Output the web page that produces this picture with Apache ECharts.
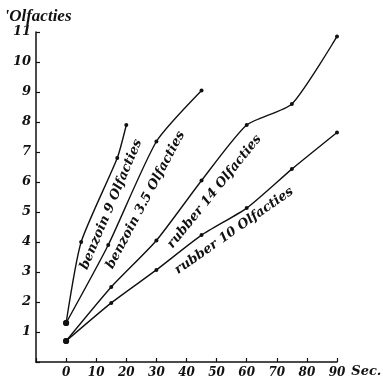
<!DOCTYPE html>
<html><head><meta charset="utf-8">
<script src="https://cdn.jsdelivr.net/npm/echarts@6/dist/echarts.min.js"></script>
<style>html,body{margin:0;padding:0;background:#fff}#c{width:383px;height:377px}</style>
</head><body><div id="c"></div>
<script>
const benzoin9 = [[0,1.3],[5,4.0],[17,6.8],[20,7.9]];
const benzoin35 = [[0,1.3],[14,3.9],[30,7.35],[45,9.05]];
const rubber14 = [[0,0.7],[15,2.5],[30,4.05],[45,6.05],[60,7.9],[75,8.6],[90,10.85]];
const rubber10 = [[0,0.7],[15,1.97],[30,3.07],[45,4.23],[60,5.13],[75,6.43],[90,7.65]];
const xTicks = [-10,0,10,20,30,40,50,60,70,80,90];
const yTicks = [1,2,3,4,5,6,7,8,9,10,11];
const lineLabels = [
  {text:'benzoin 9 Olfacties', at:[15.0,5.25], rot:67},
  {text:'benzoin 3.5 Olfacties', at:[26.4,5.4], rot:62},
  {text:'rubber 14 Olfacties', at:[49.3,5.68], rot:51},
  {text:'rubber 10 Olfacties', at:[55.8,4.37], rot:35}
];
const FONT = 'DejaVu Serif';
const txt = {fontFamily:FONT, fontStyle:'italic', fontWeight:'bold', color:'#111'};
function mk(name, data, lbl){
  return {
    name, type:'line', data, smooth:0.2,
    symbol:'circle',
    symbolSize:(v,p)=>p.dataIndex===0?6:4,
    lineStyle:{color:'#111', width:1.4},
    itemStyle:{color:'#111'},
    markPoint: lbl ? {
      symbol:'circle', symbolSize:0, silent:true,
      label:{show:true, formatter:lbl.text, rotate:lbl.rot, fontSize:13, ...txt},
      data:[{coord:lbl.at}]
    } : undefined
  };
}
const chart = echarts.init(document.getElementById('c'));
chart.setOption({
  backgroundColor:'#fff',
  animation:false,
  grid:{left:36, right:46, top:32, bottom:15, containLabel:false, outerBoundsMode:'none'},
  xAxis:{type:'value', min:-10, max:90, interval:10,
    name:'Sec.', nameLocation:'end', nameGap:10,
    nameTextStyle:{...txt, fontSize:13, verticalAlign:'top', padding:[3,0,0,0]},
    axisLine:{onZero:false, lineStyle:{color:'#111', width:1.5}},
    axisTick:{inside:true, length:4, lineStyle:{color:'#111', width:1.2}},
    axisLabel:{...txt, fontSize:12, margin:5, formatter:v=>v<0?'':String(v)},
    splitLine:{show:false}},
  yAxis:{type:'value', min:0, max:11, interval:1,
    name:"'Olfacties", nameLocation:'end', nameGap:7,
    nameTextStyle:{...txt, fontFamily:'Liberation Serif', fontSize:17, align:'center', padding:[0,0,0,4]},
    axisLine:{show:true, onZero:false, lineStyle:{color:'#111', width:1.5}},
    axisTick:{show:true, inside:true, length:4, lineStyle:{color:'#111', width:1.2}},
    axisLabel:{...txt, fontSize:13, margin:5, formatter:v=>v===0?'':String(v)},
    splitLine:{show:false}},
  series:[
    mk('benzoin 9', benzoin9, lineLabels[0]),
    mk('benzoin 3.5', benzoin35, lineLabels[1]),
    mk('rubber 14', rubber14, lineLabels[2]),
    mk('rubber 10', rubber10, lineLabels[3])
  ]
});
</script></body></html>
